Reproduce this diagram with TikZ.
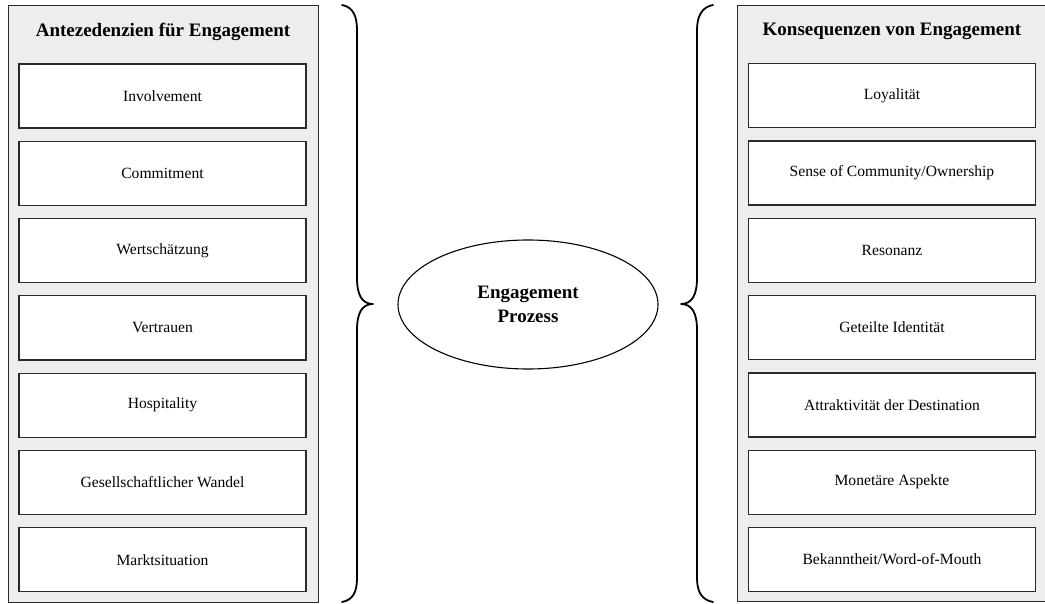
\documentclass[tikz,border=0pt]{standalone}
\usepackage{fontspec}
\setmainfont{Liberation Serif}
\usetikzlibrary{shapes.geometric}
\definecolor{panelfill}{HTML}{EDEDED}
\definecolor{edge}{HTML}{2A2A2A}
\tikzset{
  panelbox/.style={draw=edge, line width=1.3pt, fill=panelfill, anchor=north west, inner sep=0pt},
  itembox/.style={draw=edge, line width=1.3pt, fill=white, minimum width=287, minimum height=64, anchor=north, inner sep=0pt, font=\fontsize{15.6}{18}\selectfont},
  paneltitle/.style={font=\fontsize{19}{22}\selectfont\bfseries, inner sep=0pt},
  bracepath/.style={draw=black, line width=1.8pt, line cap=round, line join=round},
  procnode/.style={ellipse, draw=black, line width=1.1pt, minimum width=260, minimum height=129, inner sep=0pt, align=center, font=\fontsize{19}{23.5}\selectfont\bfseries}
}
\begin{document}
\begin{tikzpicture}[x=1pt,y=-1pt]
\useasboundingbox (0,0) rectangle (1045,604);
% left panel
\node[panelbox, minimum width=310, minimum height=597] (lp) at (8,5) {};
\node[paneltitle] (lt) at (163,32) {Antezedenzien für Engagement};
\foreach \t [count=\i] in {Involvement,Commitment,Wertschätzung,Vertrauen,Hospitality,Gesellschaftlicher Wandel,Marktsituation}{
  \node[itembox] (l\i) at (162.5,{63.3+77.3*(\i-1)}) {\t};
}
% right panel
\node[panelbox, minimum width=311, minimum height=596] (rp) at (737,5) {};
\node[paneltitle] (rt) at (892,31) {Konsequenzen von Engagement};
\foreach \t [count=\i] in {Loyalität,Sense of Community/Ownership,Resonanz,Geteilte Identität,Attraktivität der Destination,Monetäre Aspekte,Bekanntheit/Word-of-Mouth}{
  \node[itembox] (r\i) at (892,{63+77.3*(\i-1)}) {\t};
}
% process ellipse
\node[procnode] (proc) at (528,304.5) {Engagement\\Prozess};
% left brace
\draw[bracepath] (342,5) .. controls (353,7) and (357,16) .. (357,30)
  -- (357,278) .. controls (357,295) and (362,304) .. (373,304)
  .. controls (362,304) and (357,313) .. (357,330)
  -- (357,578) .. controls (357,592) and (353,600) .. (342,602);
% right brace
\draw[bracepath] (713,5) .. controls (702,7) and (697,16) .. (697,30)
  -- (697,278) .. controls (697,295) and (692,304) .. (681,304)
  .. controls (692,304) and (697,313) .. (697,330)
  -- (697,578) .. controls (697,592) and (702,600) .. (713,602);
\end{tikzpicture}
\end{document}
